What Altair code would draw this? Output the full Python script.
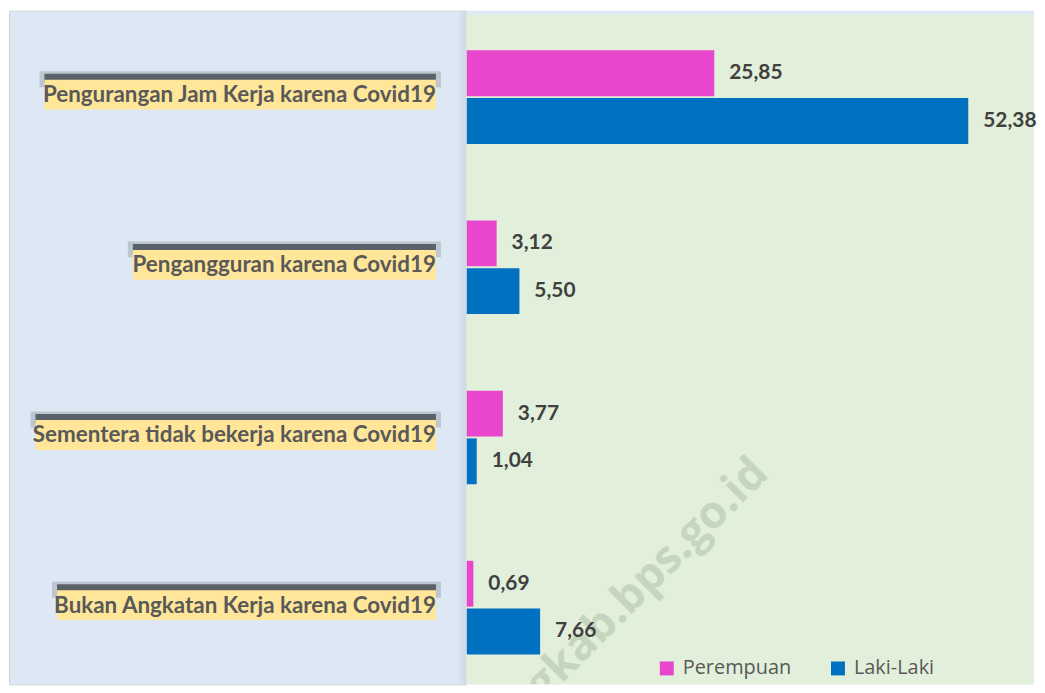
import altair as alt
import pandas as pd

# ---- data ----
categories = [
    "Pengurangan Jam Kerja karena Covid19",
    "Pengangguran karena Covid19",
    "Sementera tidak bekerja karena Covid19",
    "Bukan Angkatan Kerja karena Covid19",
]
series = ["Perempuan", "Laki-Laki"]
perempuan = [25.85, 3.12, 3.77, 0.69]
laki_laki = [52.38, 5.50, 1.04, 7.66]
colors = ["#E846CD", "#0070C0"]
watermark = "bangkab.bps.go.id"

# ---- layout ----
H = 677
LW = 459
RW = 570
FONT = "Lato"
LABEL_SIZE = 22.5
LABEL_RIGHT = 429

# approximate Lato Bold advance widths (em) to size the label highlight boxes
_w = {" ": 0.2, "i": 0.24, "j": 0.24, "l": 0.24, "t": 0.35, "r": 0.36, "f": 0.3,
      "m": 0.84, "w": 0.75, "k": 0.52, "e": 0.52, "a": 0.5, "g": 0.5, "v": 0.5,
      "s": 0.43, "c": 0.46, "n": 0.55, "u": 0.55, "d": 0.56, "b": 0.56, "o": 0.56,
      "p": 0.56, "h": 0.55, "P": 0.62, "K": 0.62, "B": 0.62, "A": 0.66, "C": 0.66,
      "S": 0.5, "J": 0.38, "1": 0.58, "9": 0.58}


def text_width(s):
    return sum(_w.get(ch, 0.55) for ch in s) * LABEL_SIZE * 1.023


rows = []
for c, p, l in zip(categories, perempuan, laki_laki):
    rows.append({"kategori": c, "jenis": series[0], "nilai": p})
    rows.append({"kategori": c, "jenis": series[1], "nilai": l})
df = pd.DataFrame(rows)
lab = pd.DataFrame({"kategori": categories, "tw": [text_width(c) for c in categories]})
one = pd.DataFrame({"a": [0]})

yscale = alt.Scale(domain=categories, paddingInner=0.45, paddingOuter=0.2047, align=0.57)
yoff_scale = alt.Scale(domain=series, paddingInner=0.04, paddingOuter=0)
Y = alt.Y("kategori:N", scale=yscale, axis=None, sort=categories)
px = alt.Scale(domain=[0, LW], range=[0, LW])

# ---- left panel: category labels with highlight ----
left_base = alt.Chart(lab).transform_calculate(
    bx0=f"{LABEL_RIGHT} - datum.tw",
    bx1=f"{LABEL_RIGHT}",
    sx0=f"{LABEL_RIGHT} - datum.tw - 5",
    sx1=f"{LABEL_RIGHT} + 5",
)

shadow_outer = left_base.mark_bar(size=16, color="#5a5f66", opacity=0.25, yOffset=-18).encode(
    y=Y, x=alt.X("sx0:Q", scale=px, axis=None), x2="sx1:Q"
)
shadow_inner = left_base.mark_bar(size=9, color="#50555c", opacity=0.9, yOffset=-19).encode(
    y=Y, x=alt.X("bx0:Q", scale=px, axis=None), x2="bx1:Q"
)
highlight = left_base.mark_bar(size=30, color="#FFE699", yOffset=-2.5).encode(
    y=Y, x=alt.X("bx0:Q", scale=px, axis=None), x2="bx1:Q"
)
label_text = alt.Chart(lab).mark_text(
    align="right", baseline="middle", font=FONT, fontSize=LABEL_SIZE, fontWeight="bold",
    color="#595959", dy=-2
).encode(y=Y, x=alt.value(LABEL_RIGHT), text="kategori:N")

edge1 = alt.Chart(one).mark_rect(color="#d3dde9", opacity=0.6).encode(
    x=alt.value(LW - 7), x2=alt.value(LW), y=alt.value(0), y2=alt.value(H)
)
edge2 = alt.Chart(one).mark_rect(color="#c9d3df", opacity=0.5).encode(
    x=alt.value(LW - 3), x2=alt.value(LW), y=alt.value(0), y2=alt.value(H)
)

left = alt.layer(edge1, edge2, shadow_outer, shadow_inner, highlight, label_text).properties(
    width=LW, height=H,
    view=alt.ViewBackground(fill="#DDE8F4", stroke="#d4d4d4", strokeWidth=1),
)

# ---- right panel: bars ----
green = alt.Chart(one).mark_rect(color="#E2EFDA").encode(
    x=alt.value(0), x2=alt.value(RW), y=alt.value(4), y2=alt.value(H)
)
wm = alt.Chart(one).transform_calculate(t=f"'{watermark}'").mark_text(
    align="right", baseline="alphabetic", angle=315, font="Open Sans", fontSize=45,
    fontWeight="bold", color="#c6d6be", clip=True
).encode(x=alt.value(305), y=alt.value(467), text="t:N")

xscale = alt.Scale(domain=[0, 59.25])
bars = alt.Chart(df).mark_bar().encode(
    y=Y,
    yOffset=alt.YOffset("jenis:N", scale=yoff_scale, sort=series),
    x=alt.X("nilai:Q", scale=xscale, axis=None),
    color=alt.Color(
        "jenis:N",
        scale=alt.Scale(domain=series, range=colors),
        sort=series,
        legend=alt.Legend(
            title=None, orient="none", legendX=191, legendY=651, direction="horizontal",
            symbolType="square", symbolSize=196, symbolStrokeWidth=0,
            labelFontSize=20, labelFont="Open Sans", labelColor="#595959", labelOffset=6,
            columnPadding=36, padding=0,
        ),
    ),
)
values = alt.Chart(df).transform_calculate(
    lbl="replace(format(datum.nilai, '.2f'), '.', ',')"
).mark_text(
    align="left", baseline="middle", dx=15, font=FONT, fontSize=21, fontWeight="bold",
    color="#404040"
).encode(
    y=Y,
    yOffset=alt.YOffset("jenis:N", scale=yoff_scale, sort=series),
    x=alt.X("nilai:Q", scale=xscale, axis=None),
    text="lbl:N",
)

right = alt.layer(green, wm, bars, values).properties(
    width=RW, height=H,
    view=alt.ViewBackground(fill="#DDE8F4", stroke=None),
)

chart = alt.hconcat(left, right, spacing=0).properties(padding=0).resolve_scale(
    y="independent", x="independent", color="independent"
).configure_view(stroke=None)

chart.save("out.html", embed_options={"renderer": "svg", "actions": False})
